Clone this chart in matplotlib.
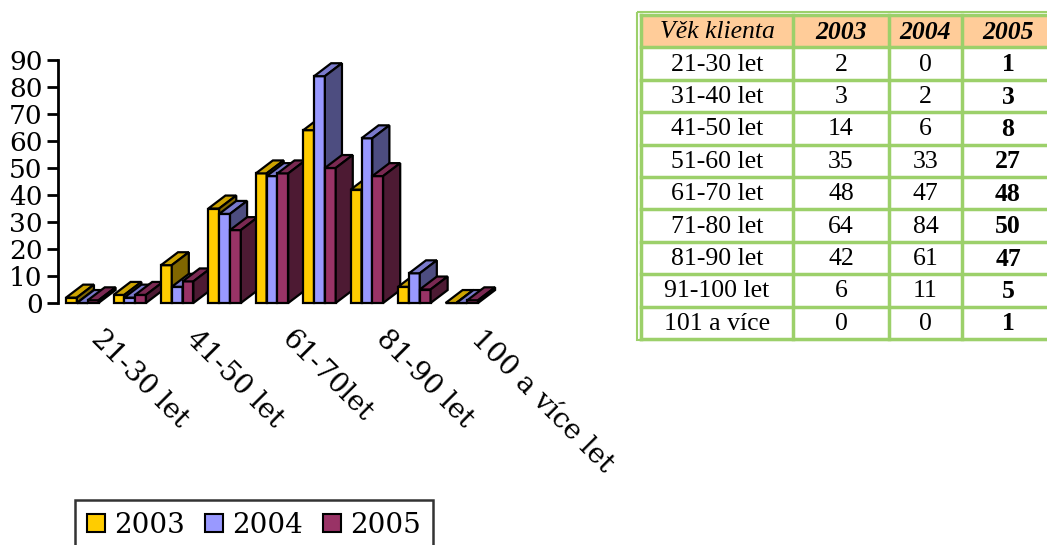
import matplotlib.pyplot as plt
from matplotlib.patches import Polygon, Rectangle, Patch

# pocty klientu podle veku
age_groups = ["21-30 let", "31-40 let", "41-50 let", "51-60 let", "61-70 let",
              "71-80 let", "81-90 let", "91-100 let", "101 a více"]
years = ["2003", "2004", "2005"]
v2003 = [2, 3, 14, 35, 48, 64, 42, 6, 0]
v2004 = [0, 2, 6, 33, 47, 84, 61, 11, 0]
v2005 = [1, 3, 8, 27, 48, 50, 47, 5, 1]
chart_labels = ["21-30 let", "41-50 let", "61-70let", "81-90 let", "100 a více let"]

front_cols = ["#FFCC00", "#9999FF", "#993366"]
top_cols = ["#CCA300", "#7A7ACC", "#7A2952"]
side_cols = ["#806600", "#4D4D80", "#4D1A33"]

W = 0.228     # bar width (group = 1)
DX = 0.36     # depth offset in x
DY = 4.8      # depth offset in values

fig = plt.figure(figsize=(10.47, 5.45), dpi=100)
ax = fig.add_axes([58 / 1047, 1 - 303 / 545, 435 / 1047, 243 / 545])
ax.set_xlim(-0.17, 9.0)
ax.set_ylim(0, 90)

series = [v2003, v2004, v2005]
k = 0
for i in range(len(age_groups)):
    for j, vals in enumerate(series):
        x0 = i + j * W
        h = vals[i]
        z = 2 + k * 3
        ax.bar(x0, h, width=W, align="edge", color=front_cols[j],
               edgecolor="black", linewidth=1.6, zorder=z, clip_on=False)
        top = [(x0, h), (x0 + W, h), (x0 + W + DX, h + DY), (x0 + DX, h + DY)]
        ax.add_patch(Polygon(top, closed=True, facecolor=top_cols[j],
                             edgecolor="black", linewidth=1.6, zorder=z + 1,
                             clip_on=False))
        side = [(x0 + W, 0), (x0 + W + DX, DY), (x0 + W + DX, h + DY), (x0 + W, h)]
        ax.add_patch(Polygon(side, closed=True, facecolor=side_cols[j],
                             edgecolor="black", linewidth=1.6, zorder=z + 2,
                             clip_on=False))
        k += 1

for s in ["top", "right", "bottom"]:
    ax.spines[s].set_visible(False)
ax.spines["left"].set_linewidth(2)
ax.set_yticks(range(0, 91, 10))
ax.tick_params(axis="y", direction="out", length=8, width=2, pad=3,
               labelsize=19)
for t in ax.get_yticklabels():
    t.set_fontfamily("DejaVu Serif")

ax.set_xticks([i + 0.82 for i in range(0, 9, 2)])
ax.set_xticklabels(chart_labels, rotation=-45, ha="left", va="top",
                   rotation_mode="anchor", fontsize=20, family="DejaVu Serif")
ax.tick_params(axis="x", length=0, pad=16)

handles = [Patch(facecolor=c, edgecolor="black", linewidth=1.5) for c in front_cols]
leg = fig.legend(handles, years, loc="upper left",
                 bbox_to_anchor=(75 / 1047, 1 - 500 / 545),
                 bbox_transform=fig.transFigure, ncol=3, frameon=True,
                 fancybox=False, borderaxespad=0, borderpad=0.42,
                 handlelength=0.65, handleheight=0.65, handletextpad=0.35,
                 columnspacing=0.7, prop={"family": "DejaVu Serif", "size": 20})
leg.get_frame().set_edgecolor("black")
leg.get_frame().set_linewidth(1.8)

# tabulka vpravo, v pixelech obrazku
tax = fig.add_axes([0, 0, 1, 1])
tax.set_xlim(0, 1047)
tax.set_ylim(545, 0)
tax.axis("off")
tax.patch.set_alpha(0)

green = "#9CD06A"
col_x = [641, 793, 889, 962, 1054]
row_top = 15
row_h = 32.4
n_rows = len(age_groups) + 1

tax.add_patch(Rectangle((637, 12), 430, 328, facecolor="none",
                        edgecolor=green, linewidth=1.5))
tax.add_patch(Rectangle((col_x[0], row_top), col_x[-1] - col_x[0], row_h,
                        facecolor="#FFCC99", edgecolor="none"))
for r in range(n_rows + 1):
    y = row_top + r * row_h
    tax.plot([col_x[0], col_x[-1]], [y, y], color=green, lw=2.5)
for x in col_x:
    tax.plot([x, x], [row_top, row_top + n_rows * row_h], color=green, lw=2.5)

hdr = ["Věk klienta"] + years
for c, txt in enumerate(hdr):
    cx = (col_x[c] + col_x[c + 1]) / 2
    tax.text(cx, row_top + row_h / 2 + 1, txt, ha="center", va="center",
             fontsize=18.5, family="Liberation Serif", style="italic",
             weight="normal" if c == 0 else "bold")

for r in range(len(age_groups)):
    cy = row_top + (r + 1.5) * row_h + 1
    cells = [age_groups[r], v2003[r], v2004[r], v2005[r]]
    for c, val in enumerate(cells):
        cx = (col_x[c] + col_x[c + 1]) / 2
        tax.text(cx, cy, str(val), ha="center", va="center", fontsize=18.5,
                 family="Liberation Serif", weight="bold" if c == 3 else "normal")

fig.savefig("out.png", dpi=100)
